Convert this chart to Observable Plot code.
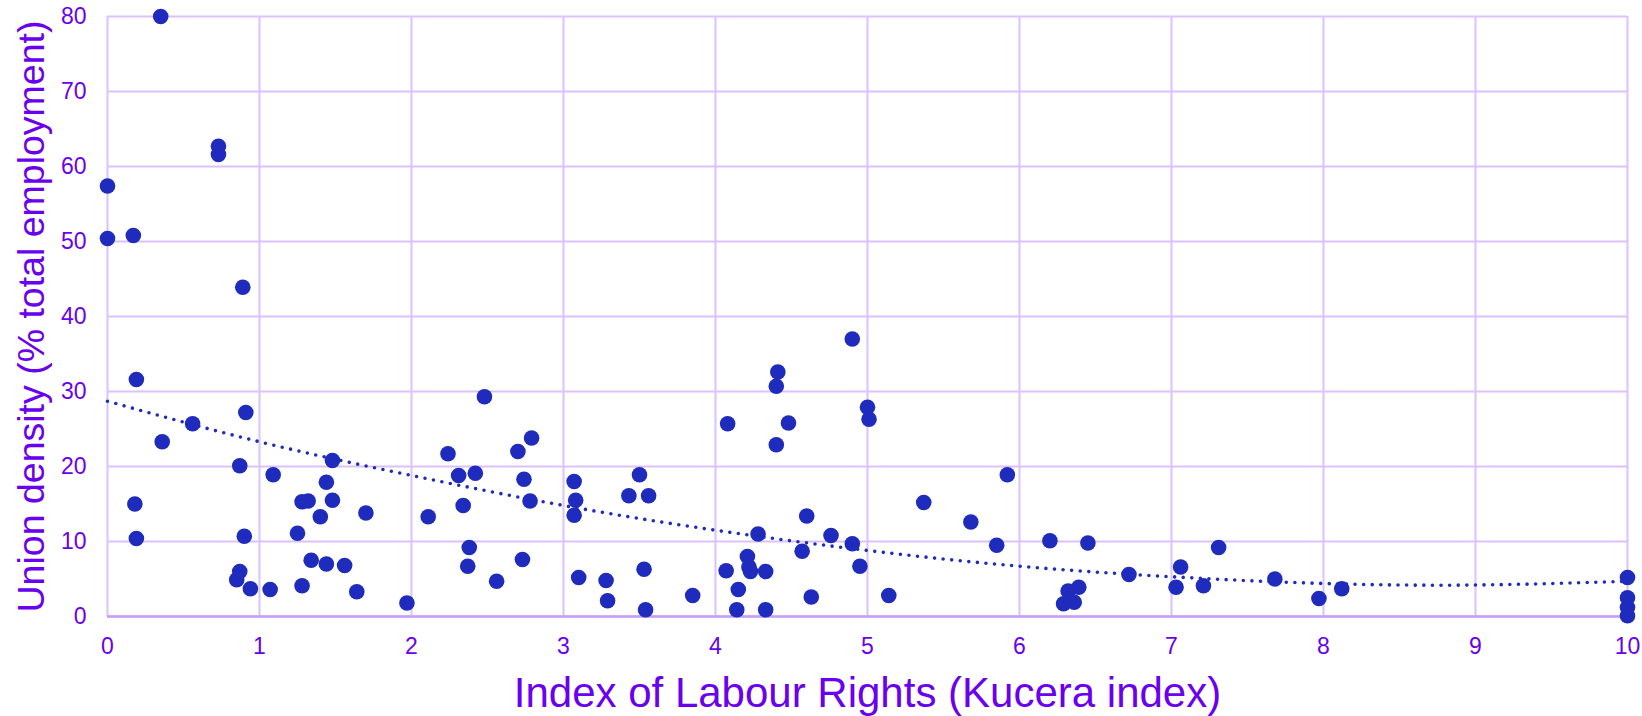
<!DOCTYPE html>
<html><head><meta charset="utf-8">
<script src="https://cdn.jsdelivr.net/npm/d3@7"></script>
<script src="https://cdn.jsdelivr.net/npm/@observablehq/plot@0.6"></script>
<style>body{margin:0;background:#fff}</style>
</head><body><div id="chart"></div>
<script>
// Kucera index (x) and union density (y) for each country
const kucera = [
  0.35, 0.73, 0.73, 0.00, 0.00, 0.17, 0.89, 0.19, 0.56, 0.36, 0.91, 0.87, 0.18, 0.19, 0.90, 0.87, 0.85, 0.94,
  1.09, 1.07, 1.48, 1.44, 1.28, 1.32, 1.48, 1.40, 1.70, 1.25, 1.34, 1.44, 1.56, 1.28, 1.64, 1.97,
  2.11, 2.24, 2.31, 2.42, 2.34, 2.48, 2.38, 2.37, 2.56, 2.70, 2.79, 2.74, 2.78, 2.73,
  3.07, 3.08, 3.07, 3.10, 3.28, 3.29, 3.50, 3.43, 3.56, 3.53, 3.54, 3.85,
  4.08, 4.41, 4.40, 4.48, 4.40, 4.60, 4.28, 4.21, 4.22, 4.23, 4.07, 4.33, 4.15, 4.14, 4.33, 4.57, 4.63,
  4.76, 4.90, 4.95, 4.90, 5.00, 5.01, 5.14,
  5.92, 5.37, 5.68, 5.85, 6.20, 6.45, 6.39, 6.32, 6.29, 6.36, 6.72, 7.06, 7.03, 7.21, 7.31, 7.68, 7.97, 8.12,
  10, 10, 10, 10
];
const density = [
  80.0, 62.7, 61.6, 57.4, 50.4, 50.8, 43.9, 31.6, 25.7, 23.3, 27.2, 20.1, 15.0, 10.4, 10.7, 6.0, 4.9, 3.7,
  18.9, 3.6, 20.8, 17.9, 15.3, 15.4, 15.5, 13.3, 13.8, 11.1, 7.5, 7.0, 6.8, 4.1, 3.3, 1.8,
  13.3, 21.7, 18.8, 19.1, 14.8, 29.3, 9.2, 6.7, 4.7, 22.0, 23.8, 18.3, 15.4, 7.6,
  18.0, 15.5, 13.5, 5.2, 4.8, 2.1, 18.9, 16.1, 16.1, 6.3, 0.9, 2.8,
  25.7, 32.6, 30.7, 25.8, 22.9, 13.4, 11.0, 8.0, 6.6, 6.0, 6.1, 6.0, 3.6, 0.9, 0.9, 8.7, 2.6,
  10.8, 9.7, 6.7, 37.0, 27.9, 26.3, 2.8,
  18.9, 15.2, 12.6, 9.5, 10.1, 9.8, 3.9, 3.4, 1.7, 1.9, 5.6, 6.6, 3.9, 4.1, 9.2, 5.0, 2.4, 3.7,
  5.2, 2.5, 1.2, 0.1
];
// Trend line at each integer x
const trendX = [0, 1, 2, 3, 4, 5, 6, 7, 8, 9, 10];
const trendY = [28.7, 23.3, 18.8, 14.8, 11.5, 8.8, 6.7, 5.3, 4.4, 4.2, 4.7];

const xTicks = [0, 1, 2, 3, 4, 5, 6, 7, 8, 9, 10];
const yTicks = [0, 10, 20, 30, 40, 50, 60, 70, 80];
const xTitle = "Index of Labour Rights (Kucera index)";
const yTitle = "Union density (% total employment)";

const points = kucera.map((x, i) => ({x, y: density[i]}));
const trend = trendX.map((x, i) => ({x, y: trendY[i]}));

const purple = "#6a00f0";
const blue = "#1e2bbd";
const grid = "#dbc2ff";

const chart = Plot.plot({
  width: 1642, height: 716,
  marginLeft: 107, marginRight: 15, marginTop: 16, marginBottom: 100,
  style: {fontFamily: "'Liberation Sans', Arial, sans-serif", background: "#fff", overflow: "visible"},
  x: {domain: [0, 10]},
  y: {domain: [0, 80]},
  marks: [
    Plot.gridX(xTicks, {stroke: grid, strokeOpacity: 1, strokeWidth: 2}),
    Plot.gridY(yTicks, {stroke: grid, strokeOpacity: 1, strokeWidth: 2}),
    Plot.ruleY([0], {stroke: "#c49ef8", strokeWidth: 2.5}),
    Plot.axisX(xTicks, {tickSize: 0, tickPadding: 21, fontSize: 23, fill: purple, label: null,
      tickFormat: d => String(d)}),
    Plot.axisY(yTicks, {tickSize: 0, tickPadding: 21, fontSize: 23, fill: purple, label: null,
      tickFormat: d => String(d)}),
    Plot.line(trend, {x: "x", y: "y", curve: "natural", stroke: blue, strokeWidth: 3.6,
      strokeDasharray: "0 8.6", strokeLinecap: "round"}),
    Plot.dot(points, {x: "x", y: "y", r: 7.8, fill: blue}),
    Plot.text([xTitle], {text: d => d, frameAnchor: "bottom", dy: 90, lineAnchor: "bottom",
      textAnchor: "middle", fontSize: 42, fill: purple}),
    Plot.text([yTitle], {text: d => d, frameAnchor: "left", dx: -64, rotate: -90, lineAnchor: "bottom",
      textAnchor: "middle", fontSize: 37.5, fill: purple})
  ]
});
document.getElementById("chart").appendChild(chart);
</script>
</body></html>
